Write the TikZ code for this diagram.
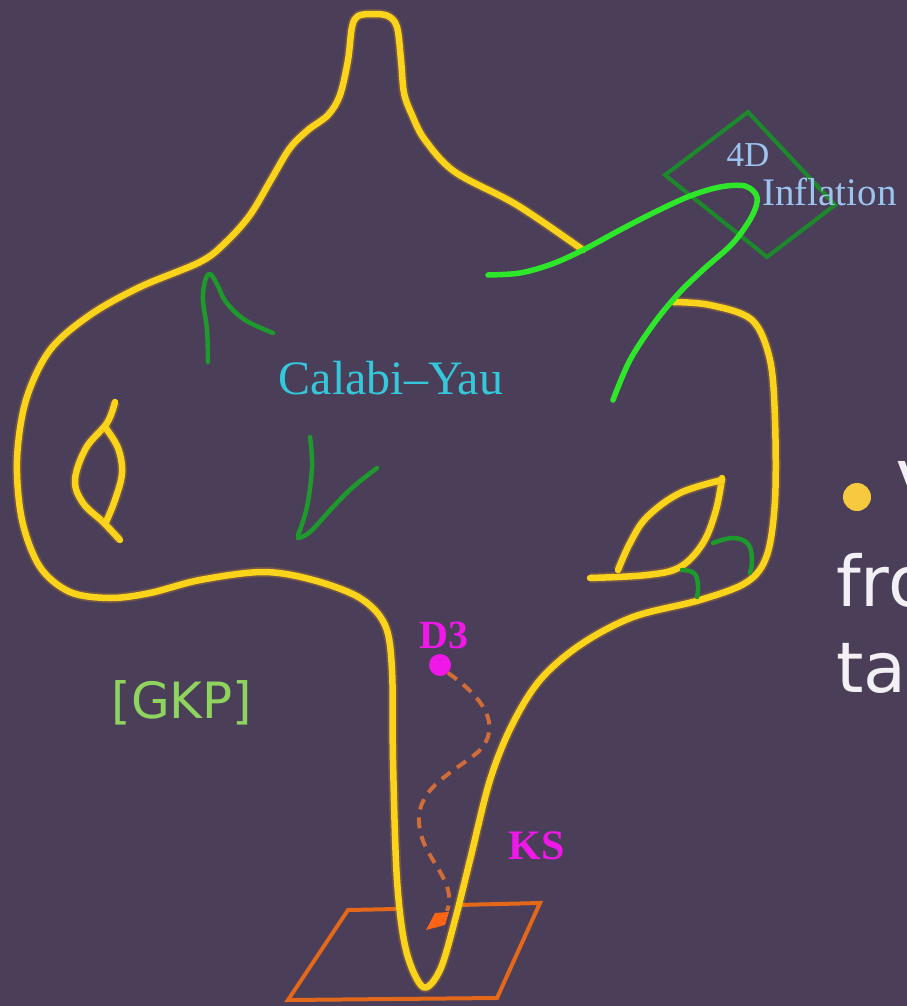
\documentclass[tikz,border=0pt]{standalone}
\usepackage{fontspec}
\setmainfont{Liberation Serif}
\newfontfamily\roundsans{DejaVu Sans}
\usetikzlibrary{arrows.meta}

\definecolor{bg}{HTML}{4A3E58}
\definecolor{cyyellow}{HTML}{FAD41A}
\definecolor{halo}{HTML}{E89A20}
\definecolor{brightgreen}{HTML}{2EE62A}
\definecolor{darkgreen}{HTML}{1E9A2C}
\definecolor{diamondgreen}{HTML}{1C8A2A}
\definecolor{plane}{HTML}{E4681A}
\definecolor{trail}{HTML}{D06C38}
\definecolor{arrowtip}{HTML}{FF6414}
\definecolor{cytext}{HTML}{34C8DA}
\definecolor{infltext}{HTML}{9CC4EE}
\definecolor{brane}{HTML}{F018E8}
\definecolor{gkpgreen}{HTML}{8ED45E}
\definecolor{slidetext}{HTML}{F2F0F4}
\definecolor{bulletyellow}{HTML}{F6C93E}

\tikzset{
  yline/.style={draw=cyyellow, line width=6.5pt, line cap=round, line join=round,
    preaction={draw=halo, line width=10pt, opacity=0.25}},
  gline/.style={draw=brightgreen, line width=5.5pt, line cap=round, line join=round},
  dgline/.style={draw=darkgreen, line width=4.5pt, line cap=round, line join=round},
  diamondline/.style={draw=diamondgreen, line width=4pt, line join=miter},
  planeline/.style={draw=plane, line width=4pt, line join=miter},
  trailline/.style={draw=trail, line width=4pt, dash pattern=on 11pt off 8pt},
  serif/.style={inner sep=0pt},
  slide/.style={inner sep=0pt, anchor=base west, text=slidetext,
    font=\roundsans\fontsize{70}{74}\selectfont},
}

\begin{document}
\begin{tikzpicture}[x=1pt, y=-1pt]
  \clip (0,0) rectangle (907,1006);
  \fill[bg] (0,0) rectangle (907,1006);

  % the D3 brane's resting plane at the tip of the throat
  \draw[planeline] (396,909) -- (348,910) -- (288,1000) -- (497,998) -- (540,903) -- (458,905);

  % Calabi--Yau outline with the warped throat
  \draw[yline] plot[smooth, tension=0.55] coordinates {
    (583,250) (517,205) (455,172) (425,140) (412,115) (404,93) (401,60) (397,27)
    (388,16) (373,14) (358,16) (352,27) (348,60) (340,95) (328,115) (308,130)
    (290,148) (272,178) (250,215) (225,243) (200,262) (140,287) (90,315) (50,350)
    (26,400) (17,460) (22,520) (40,567) (70,592) (110,598) (150,593) (200,580)
    (263,572) (313,580) (360,598) (385,625) (392,670) (393,760) (397,880)
    (406,950) (423,987) (440,970) (455,920) (470,860) (490,780) (512,725)
    (540,680) (580,645) (633,617) (700,600) (747,582) (767,555) (775,500)
    (775,420) (770,360) (752,320) (710,305) (673,302)};

  % left handle
  \draw[yline] plot[smooth, tension=0.6] coordinates {
    (115,402) (107,423) (86,448) (75,480) (83,503) (103,522) (120,540)};
  \draw[yline] plot[smooth, tension=0.6] coordinates {
    (105,427) (118,448) (122,473) (115,500) (106,522)};

  % right handle
  \draw[yline] plot[smooth, tension=0.6] coordinates {
    (590,578) (647,575) (680,567) (703,543) (716,510) (722,478)};
  \draw[yline] plot[smooth, tension=0.6] coordinates {
    (722,480) (680,493) (647,517) (630,543) (618,570)};

  % cycles wrapped by branes
  \draw[dgline] plot[smooth, tension=0.6] coordinates {
    (208,362) (207,330) (203,300) (205,281) (210,274) (217,284) (226,302) (245,320) (273,333)};
  \draw[dgline] plot[smooth, tension=0.6] coordinates {
    (310,437) (312,467) (307,507) (298,535)};
  \draw[dgline] plot[smooth, tension=0.6] coordinates {
    (298,538) (310,532) (333,507) (353,487) (377,468)};
  \draw[dgline] plot[smooth, tension=0.7] coordinates {
    (682,570) (694,573) (698,585) (697,597)};
  \draw[dgline] plot[smooth, tension=0.7] coordinates {
    (713,543) (733,538) (748,544) (752,560) (750,573)};

  % the 4D inflation region
  \draw[diamondline] (748,112) -- (835,205) -- (767,257) -- (665,175) -- cycle;
  \draw[gline] plot[smooth, tension=0.55] coordinates {
    (488,275) (520,273) (552,264) (583,250) (620,230) (655,212) (690,196) (720,187)
    (745,186) (757,197) (752,216) (733,243) (705,268) (680,292) (655,322) (630,360) (613,400)};

  % labels
  \node[serif, text=cytext, font=\fontsize{48}{50}\selectfont] (cy) at (391,378) {Calabi--Yau};
  \node[serif, text=infltext, font=\fontsize{35}{36}\selectfont] (fourd) at (748,155) {4D};
  \node[serif, text=infltext, font=\fontsize{39}{42}\selectfont, anchor=west] (infl) at (762,192) {Inflation};
  \node[serif, text=brane, font=\bfseries\fontsize{40}{42}\selectfont] (d3lab) at (444,635) {D3};
  \node[serif, text=brane, font=\bfseries\fontsize{42}{44}\selectfont] (ks) at (537,846) {KS};
  \node[inner sep=0pt, text=gkpgreen, font=\roundsans\fontsize{50}{52}\selectfont] (gkp) at (182,703) {[GKP]};

  % the D3 brane and its path down the throat, ending in a kite-shaped head
  \node[circle, fill=brane, minimum size=22pt, inner sep=0pt] (d3dot) at (440,665) {};
  \coordinate (tipback) at (447,911);
  \coordinate (tip) at (426,930);
  \draw[trailline]
    (d3dot.south east) .. controls (480,695) and (505,725) .. (478,752)
    .. controls (450,775) and (412,790) .. (420,830)
    .. controls (425,860) and (458,882) .. (tipback);
  \fill[arrowtip] (tip) -- (435,913) -- (449,912) -- (445,925) -- cycle;

  % slide text running past the right edge
  \node[circle, fill=bulletyellow, minimum size=28pt, inner sep=0pt] (bul) at (857,497) {};
  \node[slide] (vt) at (897,512) {V};
  \node[slide] (fro) at (836,606) {fro};
  \node[slide] (tal) at (836,692) {tal};
\end{tikzpicture}
\end{document}
